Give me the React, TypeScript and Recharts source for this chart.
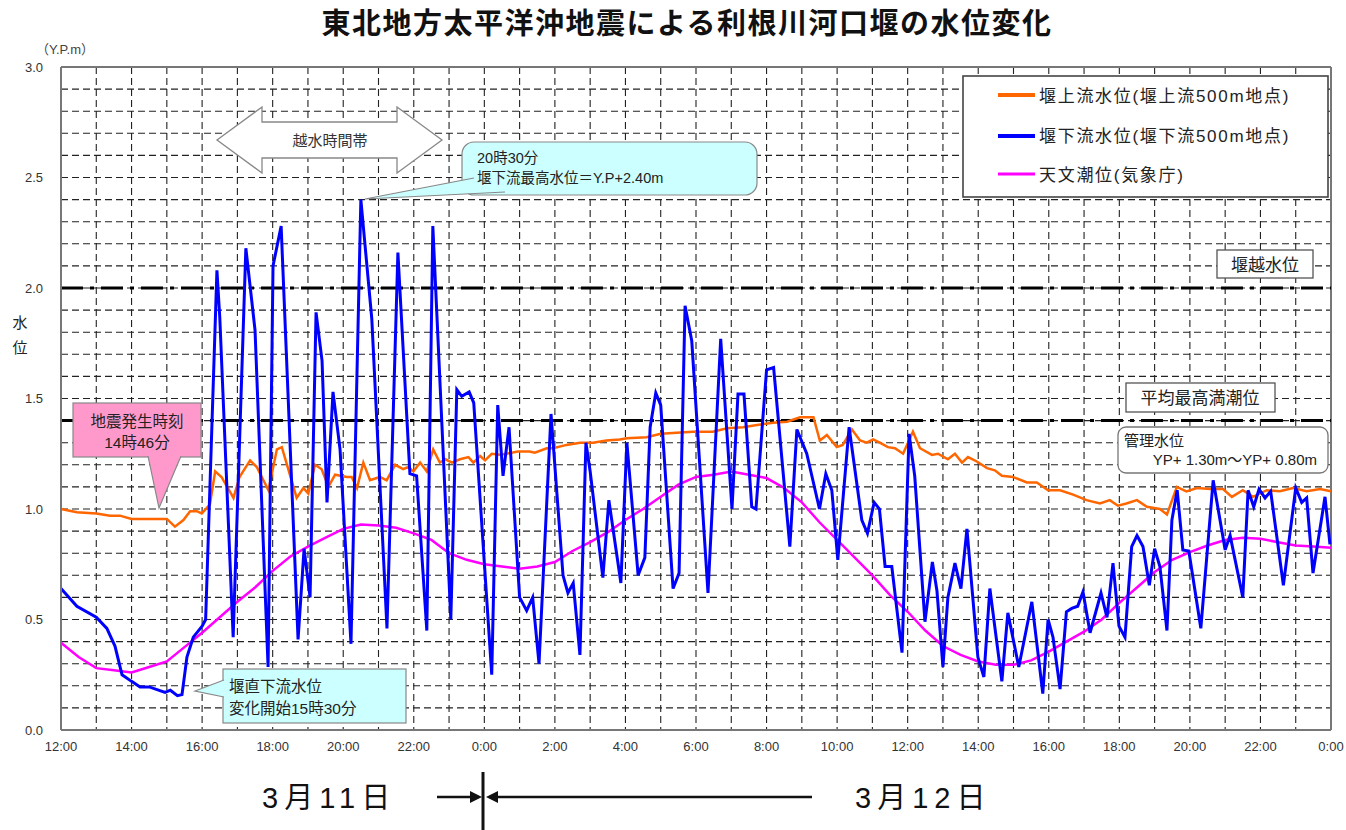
import React from 'react';
import { LineChart, Line, XAxis, YAxis, CartesianGrid, ReferenceLine } from 'recharts';

// 時刻は 3/11 12:00 からの経過時間(h)
const xTickLabels = ['12:00', '14:00', '16:00', '18:00', '20:00', '22:00', '0:00', '2:00', '4:00', '6:00', '8:00', '10:00', '12:00', '14:00', '16:00', '18:00', '20:00', '22:00', '0:00'];

// 堰上流水位(堰上流500m地点)
const upstreamTimes = [0, 0.45, 1.0, 1.39, 1.67, 2.0, 3.0, 3.23, 3.47, 3.66, 3.85, 3.99, 4.22, 4.37, 4.55, 4.89, 5.06, 5.36, 5.55, 5.88, 6.12, 6.26, 6.68, 6.87, 7.01, 7.2, 7.39, 7.58, 7.77, 8.1, 8.24, 8.39, 8.57, 8.76, 9.04, 9.23, 9.47, 9.7, 9.84, 9.99, 10.18, 10.37, 10.55, 10.74, 10.9, 11.08, 11.31, 11.55, 11.69, 11.88, 12.02, 12.21, 12.44, 12.63, 12.95, 13.28, 13.43, 13.77, 13.95, 14.33, 14.71, 15.08, 15.46, 15.84, 16.04, 16.6, 17.0, 17.91, 18.48, 18.88, 19.33, 19.73, 20.18, 20.58, 20.95, 21.33, 21.51, 21.71, 21.99, 22.16, 22.42, 22.65, 22.84, 23.02, 23.21, 23.44, 23.64, 23.87, 24.15, 24.35, 24.69, 24.86, 25.14, 25.34, 25.54, 25.71, 25.96, 26.25, 26.47, 26.67, 26.98, 27.38, 27.66, 27.98, 28.32, 28.69, 29.07, 29.45, 29.73, 29.96, 30.2, 30.5, 30.78, 31.15, 31.35, 31.63, 31.9, 32.2, 32.57, 32.94, 33.19, 33.5, 33.79, 34.18, 34.55, 34.92, 35.31, 35.69, 36.0];
const upstreamLevels = [1.0, 0.985, 0.98, 0.97, 0.97, 0.955, 0.955, 0.92, 0.95, 0.99, 0.99, 0.98, 1.02, 1.17, 1.145, 1.05, 1.145, 1.22, 1.19, 1.085, 1.27, 1.28, 1.05, 1.095, 1.07, 1.2, 1.18, 1.1, 1.155, 1.145, 1.145, 1.095, 1.21, 1.13, 1.145, 1.13, 1.2, 1.18, 1.19, 1.17, 1.21, 1.17, 1.27, 1.21, 1.225, 1.21, 1.225, 1.235, 1.21, 1.24, 1.22, 1.25, 1.245, 1.25, 1.26, 1.26, 1.255, 1.275, 1.275, 1.29, 1.3, 1.3, 1.31, 1.315, 1.32, 1.325, 1.34, 1.35, 1.35, 1.365, 1.37, 1.38, 1.39, 1.395, 1.415, 1.415, 1.31, 1.335, 1.28, 1.29, 1.36, 1.31, 1.3, 1.315, 1.3, 1.28, 1.275, 1.25, 1.35, 1.275, 1.245, 1.25, 1.225, 1.25, 1.21, 1.235, 1.215, 1.185, 1.175, 1.15, 1.145, 1.12, 1.12, 1.085, 1.085, 1.065, 1.04, 1.025, 1.04, 1.015, 1.025, 1.04, 1.01, 1.0, 0.975, 1.1, 1.08, 1.095, 1.09, 1.09, 1.055, 1.085, 1.055, 1.085, 1.08, 1.095, 1.08, 1.09, 1.08];

// 堰下流水位(堰下流500m地点)
const downstreamTimes = [0, 0.45, 1.0, 1.3, 1.53, 1.73, 2.0, 2.24, 2.5, 2.95, 3.1, 3.3, 3.43, 3.57, 3.75, 4.0, 4.1, 4.42, 4.5, 4.88, 5.24, 5.5, 5.87, 6.01, 6.24, 6.72, 6.89, 7.06, 7.23, 7.4, 7.54, 7.71, 7.91, 8.22, 8.5, 8.81, 9.24, 9.55, 9.89, 10.08, 10.37, 10.54, 11.05, 11.22, 11.36, 11.57, 11.7, 12.21, 12.38, 12.53, 12.7, 13.0, 13.2, 13.37, 13.55, 13.89, 14.23, 14.37, 14.52, 14.71, 14.88, 15.0, 15.36, 15.53, 15.87, 16.04, 16.36, 16.55, 16.7, 16.86, 17.0, 17.35, 17.52, 17.69, 17.88, 18.34, 18.7, 19.02, 19.19, 19.36, 19.58, 19.7, 20.0, 20.2, 20.66, 20.86, 21.14, 21.5, 21.68, 21.85, 22.02, 22.34, 22.7, 22.86, 23.05, 23.2, 23.36, 23.55, 23.84, 24.04, 24.2, 24.49, 24.7, 24.83, 25.0, 25.14, 25.34, 25.51, 25.68, 25.99, 26.16, 26.33, 26.67, 26.84, 27.15, 27.52, 27.83, 27.98, 28.12, 28.32, 28.5, 28.65, 28.82, 28.97, 29.17, 29.48, 29.65, 29.82, 29.99, 30.16, 30.35, 30.5, 30.67, 30.85, 31.0, 31.15, 31.35, 31.49, 31.64, 31.8, 31.97, 32.31, 32.66, 33.0, 33.14, 33.5, 33.65, 33.81, 33.96, 34.13, 34.29, 34.65, 35.0, 35.17, 35.31, 35.49, 35.83, 35.97];
const downstreamLevels = [0.64, 0.56, 0.51, 0.46, 0.38, 0.25, 0.22, 0.195, 0.195, 0.17, 0.18, 0.155, 0.16, 0.33, 0.42, 0.47, 0.5, 2.08, 1.87, 0.42, 2.18, 1.81, 0.285, 2.1, 2.28, 0.41, 0.82, 0.6, 1.89, 1.67, 1.03, 1.53, 1.27, 0.39, 2.4, 1.86, 0.46, 2.16, 1.16, 1.15, 0.45, 2.28, 0.5, 1.54, 1.51, 1.53, 1.48, 0.25, 1.47, 1.15, 1.37, 0.6, 0.54, 0.6, 0.3, 1.43, 0.7, 0.62, 0.665, 0.34, 1.3, 1.17, 0.69, 1.04, 0.665, 1.3, 0.7, 0.78, 1.37, 1.525, 1.47, 0.64, 0.71, 1.92, 1.76, 0.62, 1.77, 1.0, 1.52, 1.52, 1.01, 1.0, 1.63, 1.64, 0.83, 1.36, 1.25, 1.0, 1.16, 1.085, 0.77, 1.37, 0.95, 0.89, 1.03, 1.0, 0.74, 0.74, 0.35, 1.34, 1.15, 0.49, 0.76, 0.63, 0.285, 0.6, 0.755, 0.64, 0.91, 0.33, 0.24, 0.64, 0.22, 0.53, 0.285, 0.58, 0.165, 0.5, 0.42, 0.185, 0.535, 0.55, 0.56, 0.625, 0.44, 0.62, 0.51, 0.755, 0.47, 0.42, 0.83, 0.88, 0.83, 0.655, 0.82, 0.74, 0.45, 0.95, 1.085, 0.815, 0.81, 0.46, 1.13, 0.815, 0.88, 0.6, 1.085, 1.01, 1.09, 1.05, 1.08, 0.655, 1.095, 1.03, 1.05, 0.71, 1.055, 0.84];

// 天文潮位(気象庁) 30分ごと
const tideLevels = [0.395, 0.33, 0.28, 0.27, 0.26, 0.285, 0.31, 0.375, 0.44, 0.51, 0.58, 0.645, 0.72, 0.785, 0.83, 0.87, 0.91, 0.93, 0.925, 0.915, 0.89, 0.86, 0.8, 0.77, 0.75, 0.74, 0.73, 0.74, 0.76, 0.81, 0.85, 0.895, 0.95, 1.0, 1.055, 1.11, 1.145, 1.155, 1.17, 1.155, 1.14, 1.095, 1.03, 0.94, 0.86, 0.78, 0.7, 0.61, 0.535, 0.45, 0.38, 0.34, 0.31, 0.295, 0.295, 0.315, 0.355, 0.4, 0.445, 0.5, 0.575, 0.645, 0.715, 0.77, 0.805, 0.835, 0.86, 0.87, 0.865, 0.85, 0.835, 0.83, 0.825];
const tideTimes = tideLevels.map((_, i) => i * 0.5);

const WEIR_OVERFLOW = 2.0; // 堰越水位
const MEAN_HIGH_TIDE = 1.4; // 平均最高満潮位

const upstreamData = upstreamTimes.map((t, i) => ({ t, v: upstreamLevels[i] }));
const downstreamData = downstreamTimes.map((t, i) => ({ t, v: downstreamLevels[i] }));
const tideData = tideTimes.map((t, i) => ({ t, v: tideLevels[i] }));

const hourTicks = Array.from({ length: 37 }, (_, i) => i);
const levelTicks = Array.from({ length: 31 }, (_, i) => i / 10);

const JP = '"Liberation Sans", "Noto Sans CJK JP", sans-serif';

const COLORS = {
  upstream: '#ff6600',
  downstream: '#0000ff',
  tide: '#ff00ff',
};

function Overlay() {
  return (
    <svg width={1346} height={830} style={{ position: 'absolute', left: 0, top: 0, pointerEvents: 'none' }} fontFamily={JP}>
      {/* タイトル */}
      <text x={687} y={24} textAnchor="middle" dominantBaseline="central" fontSize={29} fontWeight="bold" letterSpacing={1.5} fill="#111">
        東北地方太平洋沖地震による利根川河口堰の水位変化
      </text>
      <text x={36} y={49} fontSize={13} fill="#444" dominantBaseline="central">（Y.P.m）</text>
      <text x={20} y={322} fontSize={15} fill="#222" textAnchor="middle" dominantBaseline="central">水</text>
      <text x={20} y={347} fontSize={15} fill="#222" textAnchor="middle" dominantBaseline="central">位</text>

      {/* 越水時間帯 */}
      <polygon points="217,140 262,107 262,122 397,122 397,107 442,140 397,173 397,158 262,158 262,173" fill="#fff" stroke="#888" strokeWidth={1.3} />
      <text x={330} y={140} fontSize={15} fill="#333" textAnchor="middle" dominantBaseline="central">越水時間帯</text>

      {/* 最高水位 */}
      <rect x={462} y={142} width={295} height={53} rx={12} fill="#ccffff" stroke="#888" strokeWidth={1.2} />
      <path d="M474,178 L365,199 L505,192" fill="#ccffff" stroke="#888" strokeWidth={1.2} />
      <text x={477} y={158} fontSize={14.5} fill="#222" dominantBaseline="central">20時30分</text>
      <text x={477} y={178} fontSize={14.5} fill="#222" dominantBaseline="central">堰下流最高水位＝Y.P+2.40m</text>

      {/* 地震発生時刻 */}
      <rect x={73} y={403} width={128} height={54} fill="#ff99cc" stroke="#888" strokeWidth={1.2} />
      <path d="M148,456 L159,508 L181,456" fill="#ff99cc" stroke="#888" strokeWidth={1.2} />
      <rect x={149} y={455} width={31} height={3} fill="#ff99cc" />
      <text x={137} y={421} fontSize={15.5} fill="#222" textAnchor="middle" dominantBaseline="central">地震発生時刻</text>
      <text x={137} y={442} fontSize={15.5} fill="#222" textAnchor="middle" dominantBaseline="central">14時46分</text>

      {/* 堰直下流水位 */}
      <rect x={223} y={669} width={183} height={54} fill="#ccffff" stroke="#888" strokeWidth={1.2} />
      <path d="M224,680 L195,691 L224,697" fill="#ccffff" stroke="#888" strokeWidth={1.2} />
      <rect x={222} y={681} width={4} height={15} fill="#ccffff" />
      <text x={229} y={686} fontSize={15.5} fill="#222" dominantBaseline="central">堰直下流水位</text>
      <text x={229} y={708} fontSize={15.5} fill="#222" dominantBaseline="central">変化開始15時30分</text>

      {/* 凡例 */}
      <rect x={963} y={76} width={365} height={121} fill="#fff" stroke="#444" strokeWidth={1.6} />
      <line x1={998} x2={1035} y1={95} y2={95} stroke={COLORS.upstream} strokeWidth={4} />
      <line x1={998} x2={1035} y1={136} y2={136} stroke={COLORS.downstream} strokeWidth={4} />
      <line x1={998} x2={1035} y1={174} y2={174} stroke={COLORS.tide} strokeWidth={3} />
      <text x={1039} y={96} fontSize={17} letterSpacing={1.7} fill="#222" dominantBaseline="central">堰上流水位(堰上流500m地点)</text>
      <text x={1039} y={136} fontSize={17} letterSpacing={1.7} fill="#222" dominantBaseline="central">堰下流水位(堰下流500m地点)</text>
      <text x={1039} y={175} fontSize={17} letterSpacing={1.7} fill="#222" dominantBaseline="central">天文潮位(気象庁)</text>

      {/* 基準水位ラベル */}
      <rect x={1217} y={250} width={96} height={28} fill="#fff" stroke="#555" strokeWidth={1.3} />
      <text x={1265} y={265} fontSize={17} fill="#222" textAnchor="middle" dominantBaseline="central">堰越水位</text>
      <rect x={1126} y={383} width={149} height={29} fill="#fff" stroke="#555" strokeWidth={1.3} />
      <text x={1200} y={398} fontSize={17} fill="#222" textAnchor="middle" dominantBaseline="central">平均最高満潮位</text>
      <rect x={1118} y={427} width={210} height={46} rx={8} fill="#fff" stroke="#777" strokeWidth={1.3} />
      <text x={1124} y={440} fontSize={15} fill="#222" dominantBaseline="central">管理水位</text>
      <text x={1317} y={459} fontSize={15} fill="#222" textAnchor="end" dominantBaseline="central">YP+ 1.30m～YP+ 0.80m</text>

      {/* 日付 */}
      <text x={262} y={798} fontSize={29} fill="#111" dominantBaseline="central" letterSpacing={6}>3月11日</text>
      <text x={855} y={798} fontSize={29} fill="#111" dominantBaseline="central" letterSpacing={6}>3月12日</text>
      <line x1={437} x2={474} y1={797} y2={797} stroke="#111" strokeWidth={2.5} />
      <polygon points="482,797 470,791 470,803" fill="#111" />
      <line x1={483} x2={483} y1={772} y2={830} stroke="#111" strokeWidth={3} />
      <line x1={496} x2={812} y1={797} y2={797} stroke="#111" strokeWidth={2.5} />
      <polygon points="486,797 498,791 498,803" fill="#111" />
    </svg>
  );
}

export default function App() {
  return (
    <div style={{ position: 'absolute', left: 0, top: 0, width: 1346, height: 830, background: '#fff' }}>
      <LineChart width={1346} height={830} margin={{ top: 67, right: 15, bottom: 70, left: 21 }}>
        <CartesianGrid strokeDasharray="7 4" stroke="#222" strokeWidth={1.1} />
        <XAxis
          type="number"
          dataKey="t"
          domain={[0, 36]}
          ticks={hourTicks}
          interval={0}
          tickFormatter={(v: number) => (v % 2 === 0 ? xTickLabels[v / 2] : '')}
          tickLine={false}
          axisLine={{ stroke: '#777', strokeWidth: 2 }}
          tick={{ fill: '#333', fontSize: 13, fontFamily: JP }}
          tickMargin={6}
          height={30}
        />
        <YAxis
          type="number"
          domain={[0, 3]}
          ticks={levelTicks}
          interval={0}
          tickFormatter={(v: number) => (Math.round(v * 10) % 5 === 0 ? v.toFixed(1) : '')}
          tickLine={false}
          axisLine={{ stroke: '#777', strokeWidth: 2 }}
          tick={{ fill: '#333', fontSize: 13, fontFamily: JP }}
          tickMargin={12}
          width={40}
        />
        <ReferenceLine y={3} stroke="#777" strokeWidth={2} />
        <ReferenceLine x={36} stroke="#777" strokeWidth={2} />
        <ReferenceLine y={WEIR_OVERFLOW} stroke="#000" strokeWidth={3} strokeDasharray="22 7 4 7" />
        <ReferenceLine y={MEAN_HIGH_TIDE} stroke="#000" strokeWidth={3} strokeDasharray="22 7 4 7" />
        <Line data={tideData} dataKey="v" type="linear" stroke={COLORS.tide} strokeWidth={2.5} dot={false} isAnimationActive={false} />
        <Line data={upstreamData} dataKey="v" type="linear" stroke={COLORS.upstream} strokeWidth={2.5} dot={false} isAnimationActive={false} />
        <Line data={downstreamData} dataKey="v" type="linear" stroke={COLORS.downstream} strokeWidth={3} dot={false} isAnimationActive={false} />
      </LineChart>
      <Overlay />
    </div>
  );
}
